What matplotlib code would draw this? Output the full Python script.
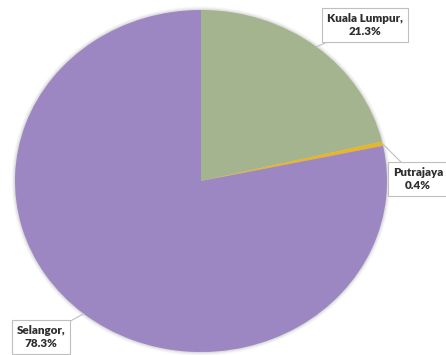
import numpy as np
import matplotlib
matplotlib.use("Agg")
import matplotlib.pyplot as plt
from matplotlib.patches import Ellipse

regions = ["Kuala Lumpur", "Putrajaya", "Selangor"]
shares = [21.3, 0.4, 78.3]
label_texts = ["Kuala Lumpur,\n21.3%", "Putrajaya\n0.4%", "Selangor,\n78.3%"]
colors = ["#A3B48E", "#E8B625", "#9D87C3"]

W, H = 446, 355
fig = plt.figure(figsize=(W / 100, H / 100), dpi=100)
fig.patch.set_facecolor("white")

# pie area in pixels: centre and radii
cx, cy, rx, ry = 201, 181, 186, 171
ax = fig.add_axes([(cx - rx) / W, (H - cy - ry) / H, 2 * rx / W, 2 * ry / H])

# soft shadow behind the pie
for k, a in zip(range(5), [0.07, 0.05, 0.04, 0.03, 0.02]):
    e = Ellipse((0, 0.0), 2 + 0.01 * k, 2 + 0.011 * k,
                facecolor="black", edgecolor="none", alpha=a, zorder=0)
    e.set_clip_on(False)
    ax.add_patch(e)

wedges, _ = ax.pie(shares, colors=colors, startangle=90, counterclock=False,
                   radius=1.0, wedgeprops=dict(edgecolor="none", linewidth=0))
for w in wedges:
    w.set_zorder(2)
    w.set_clip_on(False)
ax.set_aspect("auto")
ax.set_xlim(-1, 1)
ax.set_ylim(-1, 1)
ax.axis("off")

# label box centres in figure pixels (from top-left)
label_pos = [(365, 25), (418, 179), (41, 337)]

for w, txt, (px, py) in zip(wedges, label_texts, label_pos):
    mid = np.deg2rad((w.theta1 + w.theta2) / 2)
    xy = (np.cos(mid), np.sin(mid))
    ax.annotate(txt, xy=xy, xycoords="data",
                xytext=(px / W, 1 - py / H), textcoords="figure fraction",
                ha="center", va="center", fontsize=8.4, fontweight="heavy",
                family=["Lato", "DejaVu Sans"], color="#2E2E2E",
                linespacing=1.15,
                bbox=dict(boxstyle="square,pad=0.42", facecolor="white",
                          edgecolor="#BFBFBF", linewidth=0.8),
                arrowprops=dict(arrowstyle="-", color="#BFBFBF", lw=0.8,
                                shrinkA=0, shrinkB=0),
                annotation_clip=False, zorder=5)

fig.savefig("out.png", dpi=100, facecolor="white")
